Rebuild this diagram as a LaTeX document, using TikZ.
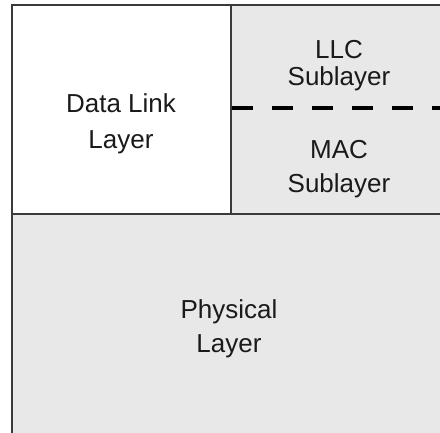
\documentclass[tikz,border=0pt]{standalone}
\usepackage{fontspec}
\setmainfont{Liberation Sans}
\definecolor{edge}{HTML}{3A3A3A}
\definecolor{panel}{HTML}{E8E8E8}
\definecolor{txt}{HTML}{1A1A1A}
\begin{document}
\begin{tikzpicture}[x=1pt,y=-1pt,
  box/.style={draw=edge, line width=1.5pt},
  lbl/.style={anchor=base, font=\fontsize{26}{30}\selectfont, text=txt, inner sep=0pt},
  sepline/.style={line width=4pt, draw=black, dash pattern=on 21pt off 19pt}]
\useasboundingbox (0,0) rectangle (440,432);
\clip (0,0) rectangle (440,432);
\fill[white] (0,0) rectangle (440,432);
\filldraw[box, fill=white] (12,5) rectangle (231,214);
\filldraw[box, fill=panel] (231,5) rectangle (446,214);
\filldraw[box, fill=panel] (12,214) rectangle (446,440);
\coordinate (sepA) at (232,108);
\coordinate (sepB) at (440,108);
\draw[sepline] (sepA) -- (sepB);
\node[lbl] (dl1) at (121,112) {Data Link};
\node[lbl] (dl2) at (121,148) {Layer};
\node[lbl] (llc1) at (339,58) {LLC};
\node[lbl] (llc2) at (339,85) {Sublayer};
\node[lbl] (mac1) at (339,158) {MAC};
\node[lbl] (mac2) at (339,192) {Sublayer};
\node[lbl] (ph1) at (229,318) {Physical};
\node[lbl] (ph2) at (229,352) {Layer};
\end{tikzpicture}
\end{document}
